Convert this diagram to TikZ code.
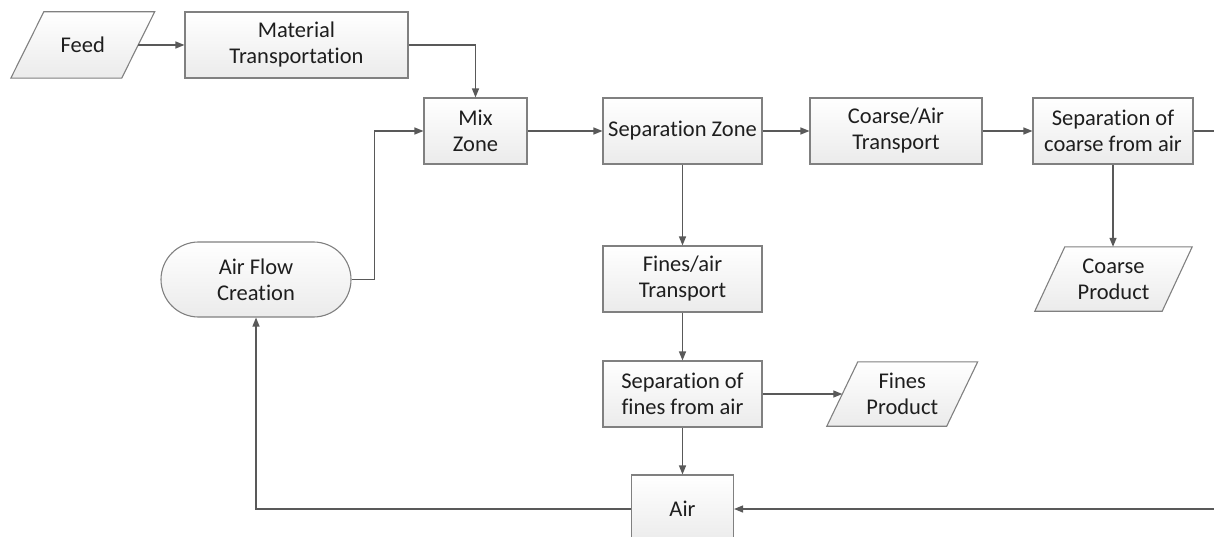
\documentclass[tikz,border=0pt]{standalone}
\usepackage{fontspec}
\setmainfont{Carlito}[Ligatures={NoCommon,NoRequired,NoContextual}]
\usetikzlibrary{arrows.meta}
\pgfdeclarelayer{bg}
\pgfsetlayers{bg,main}
\definecolor{linegray}{HTML}{595959}
\definecolor{bordergray}{HTML}{808080}
\definecolor{fillgray}{HTML}{EBEBEB}
\definecolor{textgray}{HTML}{1E1E1E}
\tikzset{
  shapebox/.style={draw=bordergray, line width=1.1pt, top color=white, bottom color=fillgray,
    align=center, inner sep=0pt, text=textgray, font=\fontsize{22.5}{26}\selectfont},
  paratext/.style={draw=none, align=center, inner sep=0pt, text=textgray, font=\fontsize{22.5}{26}\selectfont},
  parafill/.style={draw=bordergray, line width=1.1pt, top color=white, bottom color=fillgray},
  conn/.style={draw=linegray, line width=1.3pt, -{Triangle[length=9pt,width=7pt]}},
  plain/.style={draw=linegray, line width=1.3pt}
}
\newcommand\myparal[2]{\path[parafill] ([xshift=#2]#1.north west) -- ([xshift=#2]#1.north east) -- ([xshift=-#2]#1.south east) -- ([xshift=-#2]#1.south west) -- cycle;}
\begin{document}
\begin{tikzpicture}[x=1pt,y=-1pt]
\useasboundingbox (0,0) rectangle (1214,537);
\clip (0,0) rectangle (1214,537);
% parallelogram nodes
\node[paratext, minimum width=110.5pt, minimum height=66pt] (feed) at (82.75,45) {Feed};
\node[paratext, minimum width=119.5pt, minimum height=64pt] (finesP) at (902.25,394) {Fines\\Product};
\node[paratext, minimum width=127pt, minimum height=64pt] (coarseP) at (1113.5,279) {Coarse\\Product};
\begin{pgfonlayer}{bg}
\myparal{feed}{16.5pt}
\myparal{finesP}{15.5pt}
\myparal{coarseP}{15pt}
\end{pgfonlayer}
% boxes
\node[shapebox, minimum width=223pt, minimum height=66pt] (mat) at (296.5,45) {Material\\Transportation};
\node[shapebox, minimum width=103pt, minimum height=66pt] (mix) at (475.5,131) {Mix\\Zone};
\node[shapebox, minimum width=159pt, minimum height=66pt] (sep) at (682.5,131) {Separation Zone};
\node[shapebox, minimum width=172pt, minimum height=66pt] (coarseT) at (896,131) {Coarse/Air\\Transport};
\node[shapebox, minimum width=160pt, minimum height=66pt] (sepC) at (1113,131) {Separation of\\coarse from air};
\node[shapebox, minimum width=159pt, minimum height=66pt] (fines) at (682.5,279) {Fines/air\\Transport};
\node[shapebox, minimum width=159pt, minimum height=66pt] (sepF) at (682.5,394) {Separation of\\fines from air};
\node[shapebox, minimum width=102pt, minimum height=68pt] (air) at (682.5,509) {Air};
\node[shapebox, minimum width=190pt, minimum height=75pt, rounded corners=37.5pt] (afc) at (256,279.5) {Air Flow\\Creation};
% free ends
\coordinate (edgeR1) at (1220,131);
\coordinate (edgeR2) at (1220,509);
% connectors
\draw[conn] (feed.east) -- (mat.west);
\draw[conn] (mat.east) -| (mix.north);
\draw[conn] (afc.east) -- ++(23,0) |- (mix.west);
\draw[conn] (mix.east) -- (sep.west);
\draw[conn] (sep.east) -- (coarseT.west);
\draw[conn] (coarseT.east) -- (sepC.west);
\draw[plain] (sepC.east) -- (edgeR1);
\draw[conn] (sepC.south) -- (sepC.south |- coarseP.north);
\draw[conn] (sep.south) -- (fines.north);
\draw[conn] (fines.south) -- (sepF.north);
\draw[conn] (sepF.east) -- (finesP.west);
\draw[conn] (sepF.south) -- (air.north);
\draw[conn] (air.west) -| (afc.south);
\draw[conn] (edgeR2) -- (air.east);
\end{tikzpicture}
\end{document}
